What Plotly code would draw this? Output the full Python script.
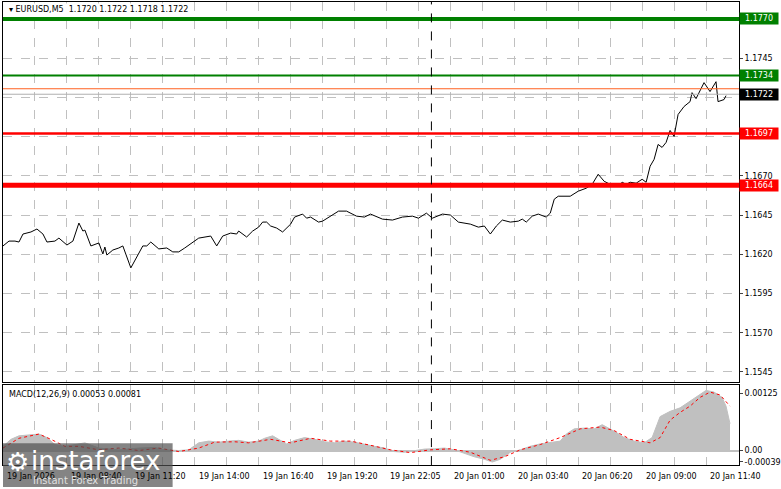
import plotly.graph_objects as go

# price line (bar index, close)
bars = [0, 3, 6, 8, 10, 14, 17, 20, 22, 26, 28, 30, 32, 35, 38, 40, 41, 44, 48, 50, 51, 52, 55, 58, 60,
        64, 67, 70, 72, 74, 78, 82, 85, 88, 91, 95, 98, 104, 107, 110, 114, 117, 118, 122, 125, 128,
        130, 132, 134, 137, 140, 144, 146, 150, 152, 154, 158, 160, 164, 168, 172, 177, 181, 184, 190,
        195, 200, 205, 208, 212, 215, 220, 224, 228, 234, 238, 241, 244, 247, 250, 254, 258, 260, 262,
        265, 268, 272, 274, 276, 278, 284, 288, 292, 295, 298, 301, 304, 308, 310, 312, 314, 317, 320,
        322, 324, 326, 328, 330, 332, 334, 336, 338, 341, 344, 345, 347, 351, 354, 357, 358, 361, 362]
closes = [1.16253, 1.16284, 1.16284, 1.16278, 1.16329, 1.16342, 1.16361, 1.16329, 1.16278, 1.16284,
          1.16303, 1.16278, 1.16259, 1.16284, 1.16399, 1.16348, 1.16354, 1.16253, 1.16272, 1.16202,
          1.16246, 1.16195, 1.16227, 1.16240, 1.16253, 1.16113, 1.16183, 1.16253, 1.16253, 1.16278,
          1.16234, 1.16240, 1.16215, 1.16215, 1.16240, 1.16278, 1.16303, 1.16316, 1.16253, 1.16316,
          1.16335, 1.16329, 1.16348, 1.16310, 1.16348, 1.16373, 1.16405, 1.16405, 1.16380, 1.16367,
          1.16342, 1.16392, 1.16437, 1.16456, 1.16430, 1.16437, 1.16405, 1.16411, 1.16443, 1.16475,
          1.16475, 1.16443, 1.16437, 1.16456, 1.16424, 1.16418, 1.16437, 1.16443, 1.16430, 1.16462,
          1.16430, 1.16456, 1.16450, 1.16405, 1.16392, 1.16373, 1.16380, 1.16329, 1.16380, 1.16418,
          1.16405, 1.16411, 1.16424, 1.16405, 1.16443, 1.16456, 1.16437, 1.16462, 1.16551, 1.16570,
          1.16570, 1.16602, 1.16621, 1.16646, 1.16710, 1.16665, 1.16646, 1.16634, 1.16659, 1.16646,
          1.16659, 1.16653, 1.16678, 1.16659, 1.16761, 1.16805, 1.16900, 1.16881, 1.16913, 1.16989,
          1.16951, 1.17091, 1.17142, 1.17173, 1.17230, 1.17192, 1.17294, 1.17237, 1.17300, 1.17173,
          1.17186, 1.17211]

# MACD histogram and signal
hist_bars = [0, 4, 8, 13, 18, 22, 26, 31, 36, 41, 48, 58, 68, 76, 81, 88, 93, 98, 103, 108, 113, 118,
             123, 128, 131, 135, 138, 142, 146, 151, 156, 161, 166, 171, 176, 181, 186, 191, 196, 201,
             206, 211, 216, 221, 226, 231, 236, 241, 245, 249, 254, 259, 264, 269, 274, 279, 282, 286,
             291, 296, 300, 304, 307, 311, 316, 321, 325, 329, 334, 339, 344, 349, 352, 356, 360, 362, 364]
hist_vals = [0.000092, 0.000246, 0.000323, 0.000346, 0.000361, 0.000284, 0.000131, 0.000092, 0.000131,
             0.000169, 0.000054, 0.000015, 0.000054, 0.000069, 0.000015, 0.0, 0.000015, 0.000169,
             0.000207, 0.000184, 0.000207, 0.000223, 0.000184, 0.000207, 0.000269, 0.000323, 0.000246,
             0.000146, 0.000223, 0.000284, 0.000246, 0.000192, 0.000169, 0.000207, 0.000184, 0.000131,
             0.000092, 0.000054, -0.000023, -0.000038, -0.000008, 0.000031, 0.000038, 0.000054,
             0.000015, -0.000061, -0.000138, -0.000192, -0.000253, -0.000192, -0.000038, 0.000015,
             0.000092, 0.000146, 0.000169, 0.000207, 0.000361, 0.000476, 0.000492, 0.000476, 0.000568,
             0.000476, 0.000399, 0.000284, 0.000207, 0.000169, 0.000284, 0.000745, 0.000860, 0.000937,
             0.001091, 0.001244, 0.001321, 0.001283, 0.001167, 0.000975, 0.000590]
sig_bars = [0, 8, 18, 24, 31, 38, 48, 58, 68, 78, 88, 98, 106, 116, 123, 134, 144, 154, 164, 174, 184,
            194, 204, 214, 224, 234, 244, 251, 259, 269, 279, 289, 299, 306, 314, 324, 329, 334, 339,
            344, 349, 354, 359, 364]
sig_vals = [0.000054, 0.000269, 0.000361, 0.000246, 0.000092, 0.000092, 0.000015, 0.000054, 0.0,
            0.000054, -0.000023, 0.000054, 0.000184, 0.000192, 0.000169, 0.000246, 0.000169, 0.000269,
            0.000207, 0.000207, 0.000115, 0.000015, -0.000046, 0.000015, 0.000038, -0.000038,
            -0.000215, -0.000138, 0.000015, 0.000131, 0.000284, 0.000476, 0.000515, 0.000438,
            0.000246, 0.000169, 0.000284, 0.000668, 0.000837, 0.000975, 0.001167, 0.001283, 0.001221,
            0.000975]

levels = [1.1770, 1.1734, 1.1697, 1.1664]
level_colors = ["#008000", "#008000", "#ff0000", "#ff0000"]
level_widths = [4, 2, 2.5, 5]
price_ticks = [1.1745, 1.1720, 1.1695, 1.1670, 1.1645, 1.1620, 1.1595, 1.1570, 1.1545]
time_bars = [0, 32, 64, 96, 128, 160, 192, 224, 256, 288, 320, 352]
time_labels = ["19 Jan 2026", "19 Jan 08:40", "19 Jan 11:20", "19 Jan 14:00", "19 Jan 16:40",
               "19 Jan 19:20", "19 Jan 22:05", "20 Jan 01:00", "20 Jan 03:40", "20 Jan 06:20",
               "20 Jan 09:00", "20 Jan 11:40"]

W, H = 781, 489
FONT = "DejaVu Sans"
XR = [0, 368.5]

fig = go.Figure()
fig.add_trace(go.Scatter(x=hist_bars, y=hist_vals, mode="lines", line=dict(color="#c0c0c0", width=1),
                         fill="tozeroy", fillcolor="#c0c0c0", xaxis="x2", yaxis="y2"))
fig.add_trace(go.Scatter(x=sig_bars, y=sig_vals, mode="lines", line=dict(color="#ff0000", width=1, dash="dot"),
                         xaxis="x2", yaxis="y2"))

shapes = []
for lv, c, w in zip(levels, level_colors, level_widths):
    shapes.append(dict(type="line", xref="x", yref="y", x0=XR[0], x1=XR[1], y0=lv, y1=lv,
                       line=dict(color=c, width=w), layer="above"))
shapes.append(dict(type="line", xref="x", yref="y", x0=XR[0], x1=XR[1], y0=1.17255, y1=1.17255,
                   line=dict(color="#ff6020", width=1)))
shapes.append(dict(type="line", xref="x", yref="y", x0=XR[0], x1=XR[1], y0=1.1722, y1=1.1722,
                   line=dict(color="#b0b0b0", width=1)))
for yr in ["y", "y2"]:
    shapes.append(dict(type="line", xref="x", yref=yr + " domain", x0=214.5, x1=214.5, y0=0, y1=1,
                       line=dict(color="black", width=1, dash="dash")))
# instaforex logo box
shapes.append(dict(type="rect", xref="paper", yref="paper", x0=0, x1=180 / W, y0=0, y1=44 / H,
                   fillcolor="rgba(80,80,80,0.7)", line=dict(width=0), layer="above"))

fig.add_trace(go.Scatter(x=bars, y=closes, mode="lines", line=dict(color="black", width=1),
                         xaxis="x", yaxis="y"))

ann = []
for lbl, b in zip(time_labels, time_bars):
    ann.append(dict(x=b, y=11 / H, xref="x2", yref="paper", text=lbl, showarrow=False,
                    xanchor="left", yanchor="middle", xshift=2, font=dict(size=8, color="black")))
for lv, c in zip(levels + [1.1722], level_colors + ["#000000"]):
    ann.append(dict(x=1, y=lv, xref="paper", yref="y", text=f"{lv:.4f}", showarrow=False,
                    xanchor="left", xshift=0, bgcolor=c, borderpad=1, width=36, align="center",
                    font=dict(size=8, color="white")))
ann.append(dict(x=0, y=1, xref="paper", yref="paper", yanchor="top", xanchor="left", xshift=4, yshift=-3,
                text="▾ EURUSD,M5  1.1720 1.1722 1.1718 1.1722", showarrow=False,
                font=dict(size=8, color="black"), bgcolor="white"))
ann.append(dict(x=0, y=1, xref="paper", yref="y2 domain", yanchor="top", xanchor="left", xshift=4, yshift=-3,
                text="MACD(12,26,9) 0.00053 0.00081", showarrow=False, font=dict(size=8, color="black")))
ann.append(dict(x=28 / W, y=26 / H, xref="paper", yref="paper", text="instaforex", showarrow=False,
                xanchor="left", yanchor="middle", font=dict(size=26, color="white", family=FONT)))
ann.append(dict(x=30 / W, y=7 / H, xref="paper", yref="paper", text="Instant Forex Trading", showarrow=False,
                xanchor="left", yanchor="middle", font=dict(size=10, color="#e0e0e0", family=FONT)))
ann.append(dict(x=15 / W, y=25 / H, xref="paper", yref="paper", text="⚙", showarrow=False,
                xanchor="center", yanchor="middle", font=dict(size=26, color="white")))

grid = dict(showgrid=True, gridcolor="#c0c0c0", griddash="dash", gridwidth=1, zeroline=False,
            showline=True, linecolor="black", linewidth=1, mirror=True)
fig.update_layout(
    width=W, height=H, margin=dict(l=3, r=41, t=0, b=0),
    paper_bgcolor="white", plot_bgcolor="white", showlegend=False,
    font=dict(family=FONT, size=8, color="black"),
    xaxis=dict(domain=[0, 1], range=XR, anchor="y", tickvals=list(range(0, 369, 16)),
               showticklabels=False, ticks="", **grid),
    xaxis2=dict(domain=[0, 1], range=XR, anchor="y2", tickvals=list(range(0, 369, 16)),
                showticklabels=False, ticks="", **grid),
    yaxis=dict(domain=[1 - 384 / H, 1 - 2 / H], range=[1.15383, 1.17808], side="right",
               tickvals=price_ticks, tickformat=".4f", ticks="outside", ticklen=3, **grid),
    yaxis2=dict(domain=[1 - 467 / H, 1 - 387 / H], range=[-0.00032, 0.00143], side="right",
                tickvals=[0.00125, 0.0, -0.00025], ticktext=["0.00125", "0.00", "-0.00039"],
                ticks="outside", ticklen=3, showgrid=False, zeroline=True, zerolinecolor="#c0c0c0",
                showline=True, linecolor="black", mirror=True),
    shapes=shapes, annotations=ann,
)
fig.write_html("out.html", config={"displayModeBar": False})

# drop the default page margin so the figure sits at the window's corner
with open("out.html", encoding="utf-8") as f:
    page = f.read()
page = page.replace("<body>", '<body style="margin:0;overflow:hidden">', 1)
with open("out.html", "w", encoding="utf-8") as f:
    f.write(page)
